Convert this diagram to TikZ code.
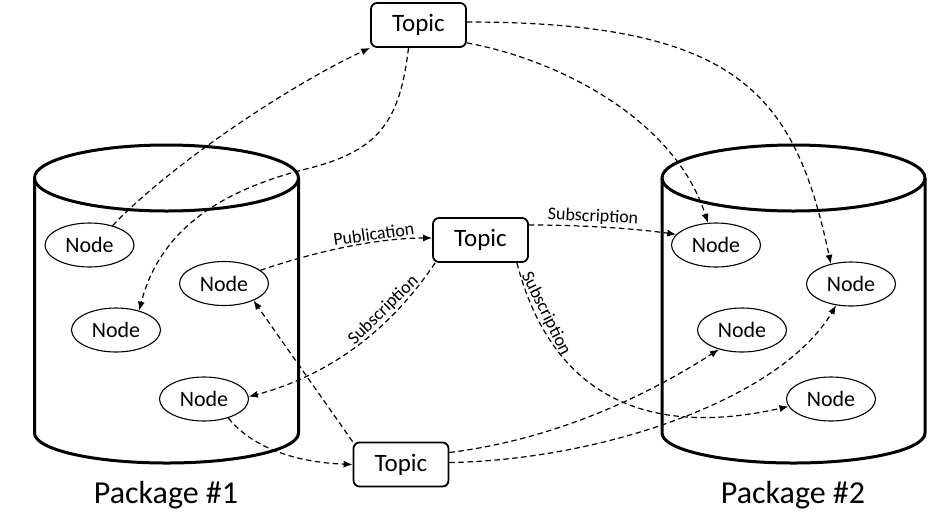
\documentclass[tikz,border=0pt]{standalone}
\usepackage{fontspec}
\setmainfont{Carlito}
\usetikzlibrary{arrows.meta,shapes.geometric}
\begin{document}
\begin{tikzpicture}[x=1pt,y=-1pt,
  nd/.style={ellipse,draw,line width=1.1pt,fill=white,minimum width=89pt,minimum height=44pt,inner sep=0pt,font=\fontsize{22}{24}\selectfont},
  tp/.style={rectangle,rounded corners=6pt,draw,line width=1.8pt,fill=white,minimum width=95pt,minimum height=44pt,font=\fontsize{25}{28}\selectfont},
  cyl/.style={line width=3pt,line join=round},
  lk/.style={line width=1.2pt,dash pattern=on 5.5pt off 3.5pt,-{Latex[length=9pt,width=7pt]}},
  lb/.style={font=\fontsize{18}{20}\selectfont,sloped,above,inner sep=1.5pt},
  pk/.style={font=\fontsize{32}{36}\selectfont,anchor=base}]
\useasboundingbox (0,0) rectangle (944,528);
% cylinders
\draw[cyl] (166.5,178) ellipse [x radius=132pt,y radius=33pt];
\draw[cyl] (34.5,178) -- (34.5,433) arc[start angle=180,end angle=360,x radius=132pt,y radius=30pt] -- (298.5,178);
\draw[cyl] (793.5,178) ellipse [x radius=131.5pt,y radius=33pt];
\draw[cyl] (662,178) -- (662,433) arc[start angle=180,end angle=360,x radius=131.5pt,y radius=30pt] -- (925,178);
\node[pk] (p1) at (166,503) {Package \#1};
\node[pk] (p2) at (793,503) {Package \#2};
% nodes
\node[nd] (a1) at (89.5,245) {Node};
\node[nd] (a2) at (224,283.5) {Node};
\node[nd] (a3) at (116,330) {Node};
\node[nd] (a4) at (204,399) {Node};
\node[nd] (m1) at (716,245) {Node};
\node[nd] (m2) at (851,284) {Node};
\node[nd] (m3) at (742,330) {Node};
\node[nd] (m4) at (831,399) {Node};
\node[tp] (t1) at (418.5,25) {Topic};
\node[tp] (t2) at (480.5,240) {Topic};
\node[tp] (t3) at (401,464.5) {Topic};
% connectors
\draw[lk] (a1.40) .. controls (170,165) and (290,85) .. (t1.south west);
\draw[lk] ([xshift=-10pt]t1.south) .. controls (400,120) and (380,150) .. (310,168) .. controls (220,190) and (160,230) .. (a3.40);
\draw[lk] ([yshift=3pt]t1.east) .. controls (740,22) and (795,95) .. (m2.135);
\draw[lk] ([yshift=5pt]t1.south east) .. controls (560,60) and (675,120) .. (m1.110);
\draw[lk] (a2.20) .. controls (320,250) and (380,238) .. node[lb,pos=0.65]{Publication} ([yshift=2pt]t2.west);
\draw[lk] ([yshift=15pt]t2.east) .. controls (580,225) and (630,228) .. node[lb,pos=0.42]{Subscription} (m1.165);
\draw[lk] ([xshift=3pt]t2.south west) .. controls (390,330) and (330,375) .. node[lb,pos=0.3]{Subscription} (a4.3);
\draw[lk] ([xshift=-12pt]t2.south east) .. controls (550,390) and (640,440) .. node[lb,pos=0.16]{Subscription} (m4.190);
\draw[lk] (a4.-38) .. controls (250,445) and (290,462) .. (t3.west);
\draw[lk] (t3.north west) -- (a2.-30);
\draw[lk] ([yshift=12pt]t3.east) .. controls (550,440) and (640,400) .. (m3.-140);
\draw[lk] ([yshift=2pt]t3.east) .. controls (600,460) and (780,400) .. (m2.-125);
\end{tikzpicture}
\end{document}
